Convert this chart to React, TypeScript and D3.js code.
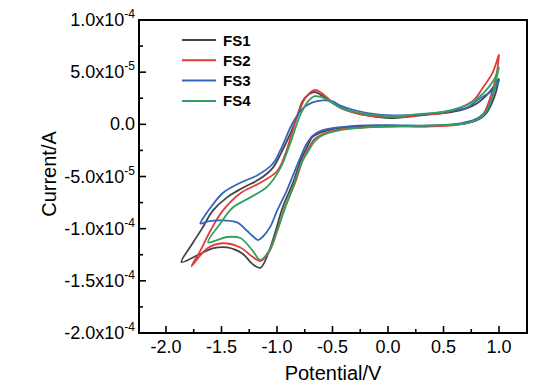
import React from "react";
import * as d3 from "d3";

// ---- data (potential in V, current in 1e-5 A) ----
const fs1Potential = [1.0, 0.97, 0.93, 0.88, 0.82, 0.7, 0.5, 0.3, 0.0, -0.2, -0.4, -0.52, -0.61, -0.68, -0.73, -0.78, -0.86, -0.95, -1.02, -1.08, -1.15, -1.22, -1.31, -1.45, -1.58, -1.69, -1.86,
  -1.76, -1.67, -1.58, -1.45, -1.31, -1.15, -1.04, -0.97, -0.88, -0.82, -0.77, -0.71, -0.66, -0.6, -0.55, -0.43, -0.34, -0.16, 0.02, 0.2, 0.38, 0.56, 0.7, 0.8, 0.88, 0.95, 1.0];
const fs1Current = [4.4, 3.0, 1.9, 1.0, 0.5, 0.1, -0.1, -0.2, -0.1, -0.2, -0.3, -0.5, -0.8, -1.2, -2.2, -3.3, -5.7, -8.0, -10.5, -12.4, -13.75, -13.4, -12.4, -11.8, -11.9, -12.4, -13.2,
  -11.4, -9.9, -8.3, -7.0, -6.1, -5.2, -4.2, -2.9, -0.9, 0.7, 2.2, 2.9, 3.1, 2.8, 2.4, 1.6, 1.25, 0.8, 0.6, 0.75, 0.95, 1.15, 1.5, 2.0, 2.7, 3.6, 4.4];

const fs2Potential = [1.0, 0.98, 0.95, 0.91, 0.86, 0.8, 0.65, 0.4, 0.1, -0.2, -0.45, -0.58, -0.66, -0.72, -0.77, -0.84, -0.93, -1.0, -1.07, -1.15, -1.22, -1.33, -1.49, -1.63, -1.77,
  -1.69, -1.6, -1.49, -1.33, -1.15, -1.0, -0.93, -0.87, -0.81, -0.74, -0.66, -0.6, -0.52, -0.43, -0.3, -0.1, 0.1, 0.3, 0.5, 0.65, 0.77, 0.86, 0.94, 0.99, 1.0];
const fs2Current = [6.7, 4.9, 3.6, 2.2, 1.0, 0.4, 0.0, -0.2, -0.2, -0.3, -0.5, -0.9, -1.4, -2.4, -3.5, -5.7, -8.0, -10.3, -12.2, -13.1, -12.7, -11.8, -11.4, -11.9, -13.6,
  -12.1, -10.2, -8.3, -6.6, -5.6, -4.5, -3.0, -1.0, 1.0, 2.6, 3.3, 3.0, 2.3, 1.6, 1.1, 0.75, 0.7, 0.9, 1.1, 1.6, 2.3, 3.6, 4.9, 6.4, 6.7];

const fs3Potential = [1.0, 0.96, 0.92, 0.86, 0.77, 0.65, 0.4, 0.1, -0.2, -0.45, -0.6, -0.68, -0.74, -0.79, -0.86, -0.91, -1.0, -1.06, -1.13, -1.17, -1.22, -1.27, -1.36, -1.51, -1.62, -1.69,
  -1.64, -1.6, -1.49, -1.33, -1.18, -1.04, -0.97, -0.86, -0.77, -0.68, -0.59, -0.5, -0.43, -0.3, -0.1, 0.1, 0.3, 0.5, 0.71, 0.83, 0.92, 0.98, 1.0];
const fs3Current = [4.2, 3.3, 2.0, 1.0, 0.4, 0.1, -0.1, -0.1, -0.1, -0.3, -0.6, -1.1, -2.0, -3.2, -5.0, -6.3, -8.3, -9.8, -10.8, -11.1, -10.7, -10.2, -9.4, -9.2, -9.3, -9.5,
  -8.6, -8.0, -6.6, -5.6, -4.9, -3.8, -2.5, 0.1, 1.5, 2.1, 2.3, 2.2, 1.8, 1.35, 0.95, 0.85, 0.95, 1.2, 1.6, 2.5, 3.1, 3.9, 4.2];

const fs4Potential = [1.0, 0.97, 0.94, 0.89, 0.83, 0.7, 0.4, 0.1, -0.2, -0.45, -0.58, -0.66, -0.72, -0.78, -0.85, -0.93, -1.0, -1.07, -1.15, -1.22, -1.33, -1.45, -1.62,
  -1.51, -1.4, -1.24, -1.09, -0.97, -0.88, -0.79, -0.72, -0.66, -0.6, -0.52, -0.43, -0.3, -0.1, 0.1, 0.3, 0.5, 0.65, 0.74, 0.86, 0.95, 1.0];
const fs4Current = [5.5, 4.0, 2.6, 1.3, 0.6, 0.1, -0.1, -0.2, -0.3, -0.6, -1.0, -1.6, -2.6, -3.7, -5.8, -8.1, -10.2, -12.1, -13.0, -12.1, -10.9, -10.8, -11.3,
  -9.5, -8.0, -7.0, -6.0, -4.2, -1.8, 0.9, 2.2, 2.7, 2.6, 2.2, 1.6, 1.2, 0.85, 0.8, 1.0, 1.2, 1.6, 2.0, 3.0, 4.2, 5.5];

const seriesNames = ["FS1", "FS2", "FS3", "FS4"];
const seriesColors = ["#444444", "#e23b3b", "#3366bb", "#33a060"];
const seriesPotentials = [fs1Potential, fs2Potential, fs3Potential, fs4Potential];
const seriesCurrents = [fs1Current, fs2Current, fs3Current, fs4Current];
const currentUnit = 1e-5;

const xTicks = [-2.0, -1.5, -1.0, -0.5, 0.0, 0.5, 1.0];
const xMinorTicks = [-1.75, -1.25, -0.75, -0.25, 0.25, 0.75];
const yTicks = [1.0e-4, 5.0e-5, 0, -5.0e-5, -1.0e-4, -1.5e-4, -2.0e-4];
const yTickMantissa = ["1.0", "5.0", "0.0", "-5.0", "-1.0", "-1.5", "-2.0"];
const yTickExponent = ["-4", "-5", "", "-5", "-4", "-4", "-4"];
const yMinorTicks = [7.5e-5, 2.5e-5, -2.5e-5, -7.5e-5, -1.25e-4, -1.75e-4];

const W = 553, H = 388;
const M = { left: 139, top: 20, right: 527, bottom: 333 };
const FONT = "'Liberation Sans', Arial, sans-serif";

export default function App() {
  const x = d3.scaleLinear().domain([-2.243, 1.252]).range([M.left, M.right]);
  const y = d3.scaleLinear().domain([-2.0e-4, 1.0e-4]).range([M.bottom, M.top]);
  const line = d3
    .line<[number, number]>()
    .x((d) => x(d[0]))
    .y((d) => y(d[1] * currentUnit))
    .curve(d3.curveCatmullRom.alpha(0.5));

  return (
    <svg width={W} height={H} style={{ position: "absolute", left: 0, top: 0, background: "#fff" }} fontFamily={FONT}>
      <defs>
        <clipPath id="plot">
          <rect x={M.left} y={M.top} width={M.right - M.left} height={M.bottom - M.top} />
        </clipPath>
      </defs>
      <g clipPath="url(#plot)">
        {seriesNames.map((n, i) => {
          const pts: [number, number][] = seriesPotentials[i].map((v, k) => [v, seriesCurrents[i][k]]);
          return <path key={n} d={line(pts) || ""} fill="none" stroke={seriesColors[i]} strokeWidth={1.8} strokeLinejoin="round" />;
        })}
      </g>
      {/* frame */}
      <rect x={M.left} y={M.top} width={M.right - M.left} height={M.bottom - M.top} fill="none" stroke="#000" strokeWidth={2} />
      {/* x ticks */}
      {xTicks.map((t) => (
        <g key={"xt" + t}>
          <line x1={x(t)} x2={x(t)} y1={M.bottom} y2={M.bottom - 7} stroke="#000" strokeWidth={1.6} />
          <text x={x(t)} y={353} fontSize={18} textAnchor="middle">{t.toFixed(1)}</text>
        </g>
      ))}
      {xMinorTicks.map((t) => (
        <line key={"xm" + t} x1={x(t)} x2={x(t)} y1={M.bottom} y2={M.bottom - 4} stroke="#000" strokeWidth={1.6} />
      ))}
      {/* y ticks */}
      {yTicks.map((t, i) => (
        <g key={"yt" + t}>
          <line x1={M.left} x2={M.left + 7} y1={y(t)} y2={y(t)} stroke="#000" strokeWidth={1.6} />
          <text x={135} y={y(t) + 6} fontSize={18} textAnchor="end">
            {yTickExponent[i] ? yTickMantissa[i] + "x10" : yTickMantissa[i]}
            {yTickExponent[i] ? <tspan fontSize={12} dy={-8}>{yTickExponent[i]}</tspan> : null}
          </text>
        </g>
      ))}
      {yMinorTicks.map((t) => (
        <line key={"ym" + t} x1={M.left} x2={M.left + 4} y1={y(t)} y2={y(t)} stroke="#000" strokeWidth={1.6} />
      ))}
      {/* axis titles */}
      <text x={(M.left + M.right) / 2} y={380} fontSize={20} textAnchor="middle">Potential/V</text>
      <text transform={`translate(56,174) rotate(-90)`} fontSize={20} textAnchor="middle">Current/A</text>
      {/* legend */}
      {seriesNames.map((n, i) => (
        <g key={"lg" + n}>
          <line x1={182} x2={216} y1={40 + i * 20.3} y2={40 + i * 20.3} stroke={seriesColors[i]} strokeWidth={2} />
          <text x={223} y={40 + i * 20.3 + 5.5} fontSize={15} fontWeight="bold">{n}</text>
        </g>
      ))}
    </svg>
  );
}
